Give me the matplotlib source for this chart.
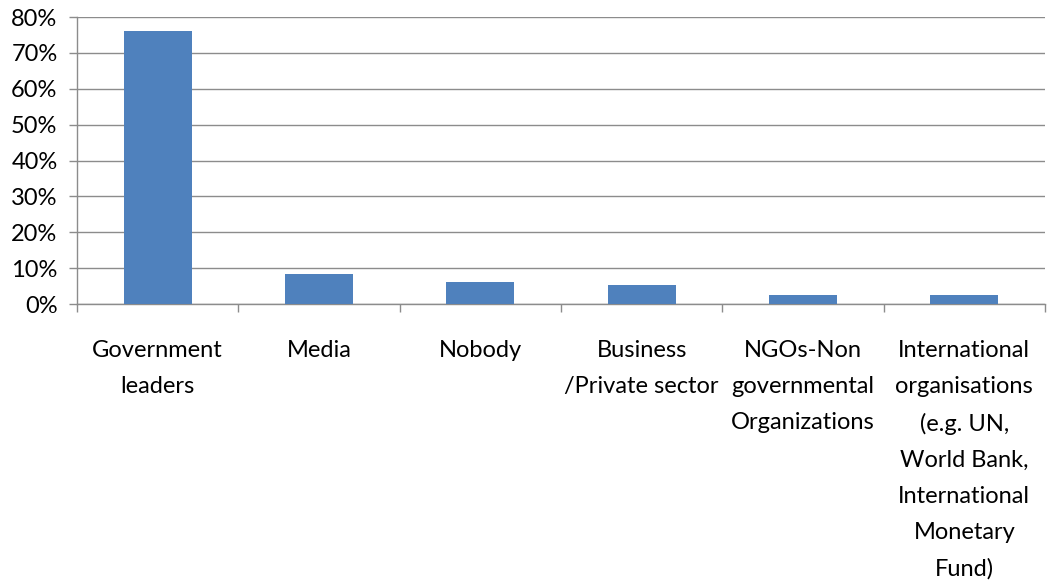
import matplotlib
matplotlib.use("Agg")
import matplotlib.pyplot as plt
import numpy as np
from matplotlib.ticker import PercentFormatter, FixedLocator

categories = [
    "Government\nleaders",
    "Media",
    "Nobody",
    "Business\n/Private sector",
    "NGOs-Non\ngovernmental\nOrganizations",
    "International\norganisations\n(e.g. UN,\nWorld Bank,\nInternational\nMonetary\nFund)",
]
values = [76.0, 8.4, 6.2, 5.4, 2.5, 2.5]
y_ticks = [0, 10, 20, 30, 40, 50, 60, 70, 80]

plt.rcParams["font.family"] = ["Lato", "DejaVu Sans"]

fig = plt.figure(figsize=(10.49, 5.87), dpi=100)
ax = fig.add_axes([0.0734, 0.4821, 0.9228, 0.4889])

x = np.arange(len(categories))
ax.bar(x, values, width=0.42, color="#4F81BD", zorder=3)

ax.set_xlim(-0.5, len(categories) - 0.5)
ax.set_ylim(0, 80)
ax.yaxis.set_major_locator(FixedLocator(y_ticks))
ax.yaxis.set_major_formatter(PercentFormatter(decimals=0))

grid_col = "#8C8C8C"
ax.grid(axis="y", color=grid_col, linewidth=1.0, zorder=0)
for side in ("top", "right"):
    ax.spines[side].set_visible(False)
for side in ("left", "bottom"):
    ax.spines[side].set_color(grid_col)
    ax.spines[side].set_linewidth(1.0)

ax.set_xticks(x)
ax.set_xticklabels(categories, fontsize=17, linespacing=1.88, va="top")
ax.set_xticks(np.arange(-0.5, len(categories)), minor=True)
ax.tick_params(axis="x", which="major", length=0, pad=26, colors="#000000")
ax.tick_params(axis="x", which="minor", length=6, color=grid_col, width=1.0)
ax.tick_params(axis="y", length=6, color=grid_col, width=1.0, labelsize=17, pad=8)

fig.savefig("out.png", dpi=100, facecolor="white")
